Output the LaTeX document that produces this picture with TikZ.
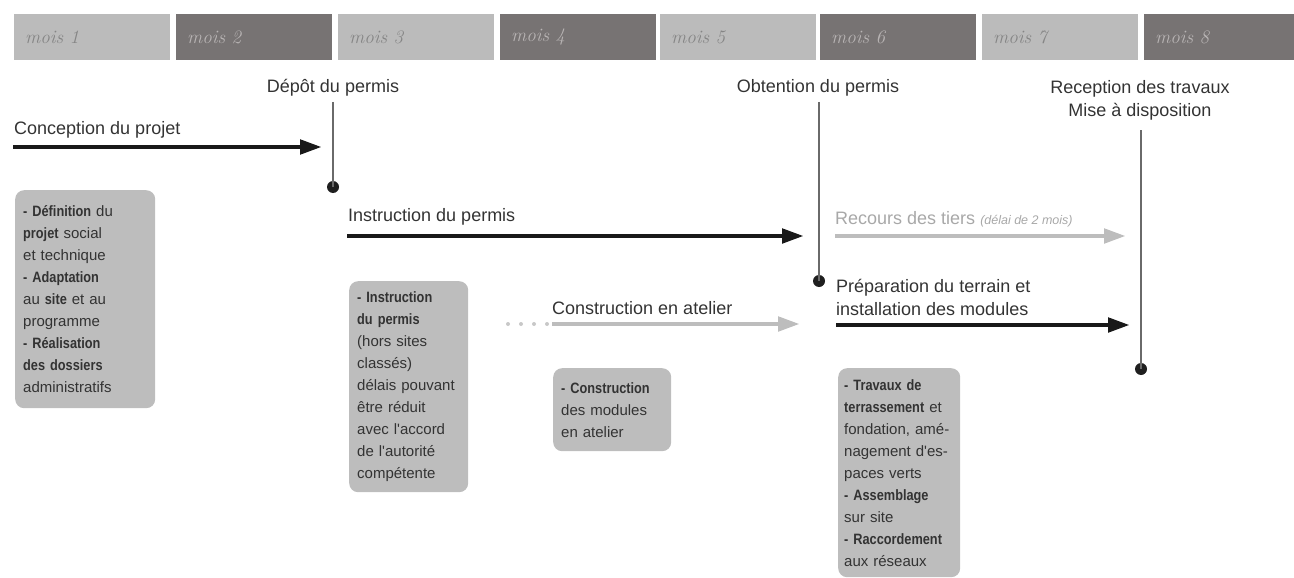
\documentclass[tikz,border=0pt]{standalone}
\usepackage{fontspec}
\usetikzlibrary{arrows.meta}
\newfontfamily\sansf{Liberation Sans}
\newfontfamily\boxf[BoldFeatures={FakeStretch=0.85}]{Liberation Sans}
\definecolor{lightbar}{HTML}{BBBBBB}
\definecolor{darkbar}{HTML}{777373}
\definecolor{lighttxt}{HTML}{858585}
\definecolor{darktxt}{HTML}{B8B4B4}
\definecolor{boxfill}{HTML}{BDBDBD}
\definecolor{ink}{HTML}{333333}
\definecolor{paleink}{HTML}{A8A8A8}
\definecolor{paleline}{HTML}{BDBDBD}
\definecolor{stemgray}{HTML}{6A6A6A}
\definecolor{dotgray}{HTML}{C8C8C8}
\begin{document}
\begin{tikzpicture}[x=1pt,y=-1pt,
  month/.style={anchor=north west, minimum width=156pt, minimum height=46pt,
    inner xsep=11pt, inner ysep=0pt, text width=134pt, align=left,
    font=\itshape\fontsize{19}{20}\selectfont},
  monthL/.style={month, fill=lightbar, text=lighttxt},
  monthD/.style={month, fill=darkbar, text=darktxt},
  lbl/.style={font=\sansf\fontsize{18}{23}\selectfont, text=ink, inner sep=0pt},
  info/.style={rounded corners=9pt, fill=boxfill, anchor=north west, align=left,
    inner xsep=8pt, inner ysep=0pt, font=\boxf\fontsize{15}{22}\selectfont, text=ink},
  blackarrow/.style={draw=black!90, line width=4.8pt, -{Triangle[length=22pt,width=14pt]}},
  palearrow/.style={draw=paleline, line width=4.8pt, -{Triangle[length=22pt,width=14pt]}},
  stem/.style={draw=stemgray, line width=2pt},
  dot/.style={circle, fill=black!88, minimum size=12pt, inner sep=0pt},
  dotline/.style={draw=dotgray, line width=4pt, line cap=round, dash pattern=on 0pt off 13pt}
]
\useasboundingbox (0,0) rectangle (1294,578);

% month bar
\node[monthL] (m1) at (14,14) {mois 1};
\node[monthD] (m2) at (176,14) {mois 2};
\node[monthL] (m3) at (338,14) {mois 3};
\node[monthD] (m4) at (500,14) {mois 4};
\node[monthL] (m5) at (660,14) {mois 5};
\node[monthD] (m6) at (820,14) {mois 6};
\node[monthL] (m7) at (982,14) {mois 7};
\node[monthD] (m8) at (1144,14) {mois 8};

% milestones
\node[lbl] (depot) at (333,88) {Dépôt du permis};
\node[dot] (d1) at (333,187) {};
\draw[stem] (333,102) coordinate (s1) -- (d1.center);

\node[lbl] (obt) at (818,88) {Obtention du permis};
\node[dot] (d2) at (819,281) {};
\draw[stem] (819,102) coordinate (s2) -- (d2.center);

\node[lbl, align=center] (rec) at (1140,100) {Reception des travaux\\Mise à disposition};
\node[dot] (d3) at (1141,369) {};
\draw[stem] (1141,130) coordinate (s3) -- (d3.center);

% phase arrows
\node[lbl, anchor=west] (concep) at (14,130) {Conception du projet};
\coordinate (c1s) at (13,147);
\coordinate (c1e) at (322,147);
\draw[blackarrow] (c1s) -- (c1e);

\node[lbl, anchor=west] (instr) at (348,217) {Instruction du permis};
\coordinate (c2s) at (347,236);
\coordinate (c2e) at (804,236);
\draw[blackarrow] (c2s) -- (c2e);

\node[lbl, anchor=west, text=paleink] (recours) at (835,219) {Recours des tiers {\itshape\fontsize{12.5}{14}\selectfont (délai de 2 mois)}};
\coordinate (c3s) at (835,236);
\coordinate (c3e) at (1126,236);
\draw[palearrow] (c3s) -- (c3e);

\node[lbl, anchor=west] (constr) at (552,308) {Construction en atelier};
\coordinate (c4d) at (508,324);
\coordinate (c4s) at (552,324);
\coordinate (c4e) at (800,324);
\draw[dotline] (c4d) -- (c4s);
\draw[palearrow] (c4s) -- (c4e);

\node[lbl, anchor=west, align=left] (prep) at (836,297) {Préparation du terrain et\\installation des modules};
\coordinate (c5s) at (836,325);
\coordinate (c5e) at (1130,325);
\draw[blackarrow] (c5s) -- (c5e);

% detail boxes
\node[info, text width=124pt, minimum height=218pt] (b1) at (15,190)
  {\textbf{- Définition} du\\ \textbf{projet} social\\ et technique\\ \textbf{- Adaptation}\\ au \textbf{site} et au\\ programme\\ \textbf{- Réalisation}\\ \textbf{des dossiers}\\ administratifs};
\node[info, text width=103pt, minimum height=211pt] (b2) at (349,281)
  {\textbf{- Instruction}\\ \textbf{du permis}\\ (hors sites\\ classés)\\ délais pouvant\\ être réduit\\ avec l'accord\\ de l'autorité\\ compétente};
\node[info, text width=102pt, minimum height=83pt] (b3) at (553,368)
  {\textbf{- Construction}\\ des modules\\ en atelier};
\node[info, inner xsep=6pt, text width=110pt, minimum height=209pt] (b4) at (838,368)
  {\textbf{- Travaux de}\\ \textbf{terrassement} et\\ fondation, amé-\\ nagement d'es-\\ paces verts\\ \textbf{- Assemblage}\\ sur site\\ \textbf{- Raccordement}\\ aux réseaux};
\end{tikzpicture}
\end{document}
